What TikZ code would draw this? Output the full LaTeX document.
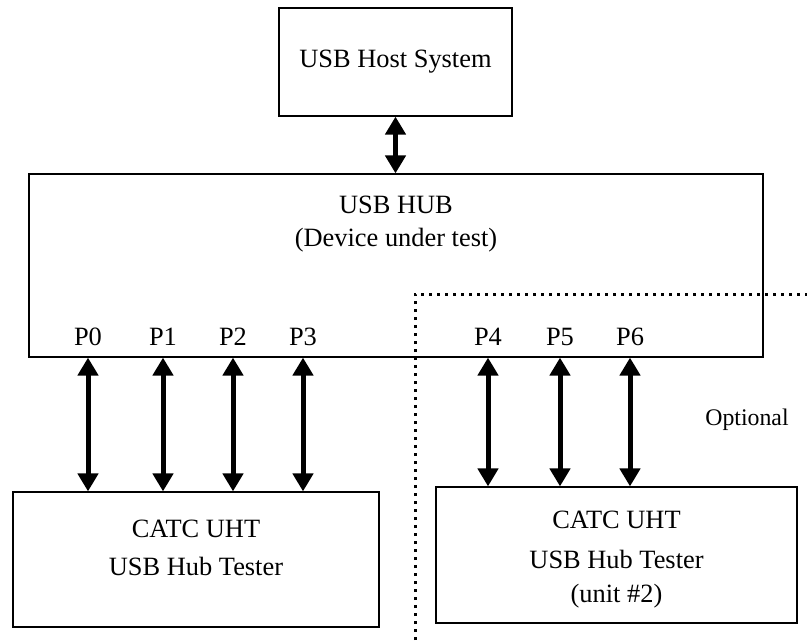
\documentclass[tikz,border=0pt]{standalone}
\usepackage{fontspec}
\setmainfont{Liberation Serif}
\usetikzlibrary{arrows.meta}
\begin{document}
\begin{tikzpicture}[x=0.5pt,y=-0.5pt]
  \tikzstyle{every node}=[font=\fontsize{13.2}{16.5}\selectfont, inner sep=0pt]
  \tikzstyle{box}=[draw, line width=0.6pt]
  \tikzstyle{link}=[line width=2.5pt, {Triangle[width=10pt,length=9pt]}-{Triangle[width=10pt,length=9pt]}]
  \useasboundingbox (0,0) rectangle (807,642);
  % boxes
  \node[box, minimum width=116.5pt, minimum height=54pt] (host) at (395.5,62) {USB Host System};
  \node[box, minimum width=367pt, minimum height=91.5pt] (hub) at (396,265.5) {};
  \node[align=center] (hubtext) at (396,224.5) {USB HUB\\(Device under test)};
  \node[box, minimum width=183pt, minimum height=67.5pt] (tester1) at (196,559.5) {};
  \node[align=center] (t1text) at (196,548) {CATC UHT\\[2.5pt]USB Hub Tester};
  \node[box, minimum width=180.5pt, minimum height=68pt] (tester2) at (616.5,555) {};
  \node[align=center] (t2text) at (616.5,560) {CATC UHT\\[3.5pt]USB Hub Tester\\[0.5pt](unit \#2)};
  % ports
  \node (p0) at (88,337) {P0};
  \node (p1) at (163,337) {P1};
  \node (p2) at (233,337) {P2};
  \node (p3) at (303,337) {P3};
  \node (p4) at (488,337) {P4};
  \node (p5) at (560,337) {P5};
  \node (p6) at (630,337) {P6};
  % links
  \draw[link] (host.south) -- (host.south |- hub.north);
  \draw[link] (hub.south -| p0) -- (tester1.north -| p0);
  \draw[link] (hub.south -| p1) -- (tester1.north -| p1);
  \draw[link] (hub.south -| p2) -- (tester1.north -| p2);
  \draw[link] (hub.south -| p3) -- (tester1.north -| p3);
  \draw[link] (hub.south -| p4) -- (tester2.north -| p4);
  \draw[link] (hub.south -| p5) -- (tester2.north -| p5);
  \draw[link] (hub.south -| p6) -- (tester2.north -| p6);
  % optional part
  \draw[line width=1.5pt, dash pattern=on 1.6pt off 2.4pt] (415,640) -- (415,294) -- (807,294);
  \node[font=\fontsize{11.9}{14}\selectfont] (opt) at (747,420) {Optional};
\end{tikzpicture}
\end{document}
